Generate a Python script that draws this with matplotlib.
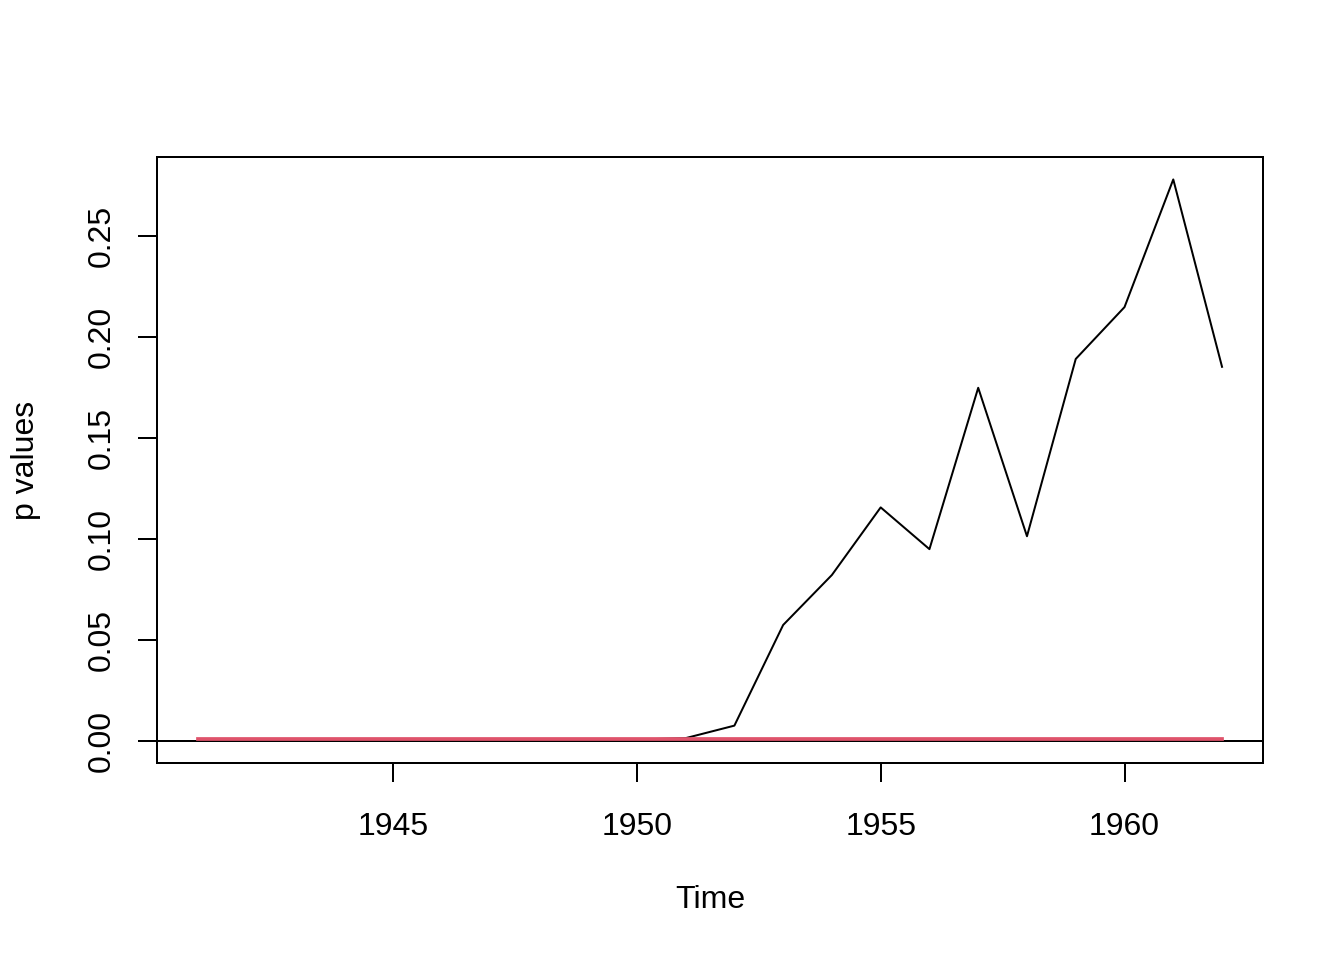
import matplotlib
matplotlib.use("Agg")
import matplotlib.pyplot as plt
import numpy as np

plt.rcParams['font.family'] = ['Liberation Sans', 'DejaVu Sans']

# yearly p values
years = np.arange(1941, 1963)
p_values = [0.0, 0.0, 0.0, 0.0, 0.0, 0.0, 0.0, 0.0002, 0.0005, 0.0005,
            0.0012, 0.0074, 0.0573, 0.0821, 0.1156, 0.0949, 0.1749, 0.1013,
            0.1892, 0.2149, 0.2782, 0.1853]
threshold = 0.001

x_ticks = [1945, 1950, 1955, 1960]
y_ticks = [0.00, 0.05, 0.10, 0.15, 0.20, 0.25]

fig = plt.figure(figsize=(7, 5), dpi=192)
W, H = 1344, 960
ax = fig.add_axes([157 / W, 1 - 763 / H, (1263 - 157) / W, (763 - 157) / H])

ax.plot(years, p_values, color="black", lw=0.75)
ax.axhline(0, color="black", lw=0.75)
ax.plot(years, [threshold] * len(years), color="#DF536B", lw=1.4)
ax.margins(x=0.04, y=0.04)

ax.set_xticks(x_ticks)
ax.set_xticklabels([str(t) for t in x_ticks])
ax.set_yticks(y_ticks)
ax.set_yticklabels(["%.2f" % t for t in y_ticks], rotation=90, va="center")
ax.tick_params(length=7.2, width=0.75, labelsize=12, direction="out")
ax.tick_params(axis="x", pad=11)
ax.tick_params(axis="y", pad=8)
for s in ax.spines.values():
    s.set_linewidth(0.75)

fig.text(710 / W, 1 - 900 / H, "Time", ha="center", va="center", fontsize=12)
fig.text(26 / W, 1 - 460 / H, "p values", ha="center", va="center",
         rotation=90, fontsize=12)

fig.savefig("out.png", dpi=192)
